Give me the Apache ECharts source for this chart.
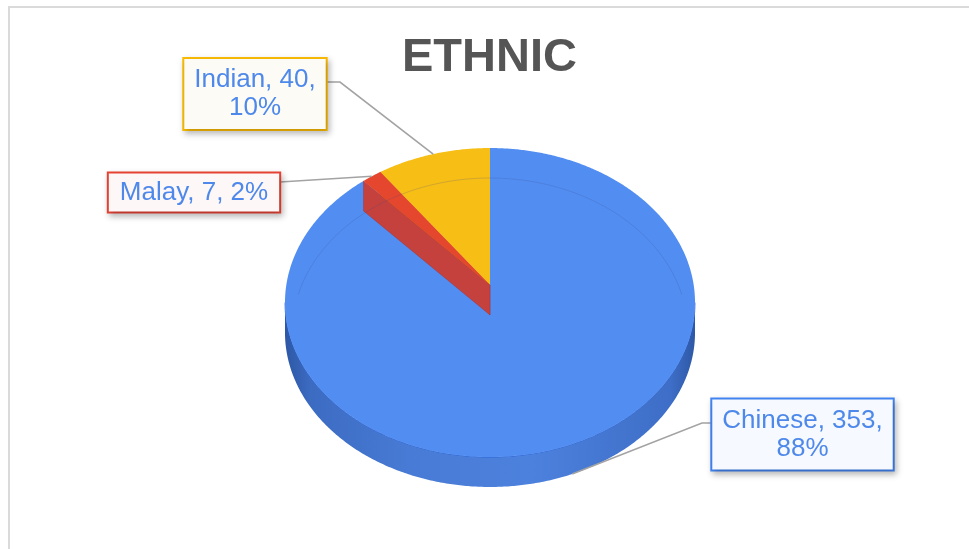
<!DOCTYPE html>
<html><head><meta charset="utf-8">
<script src="https://cdn.jsdelivr.net/npm/echarts@6/dist/echarts.min.js"></script>
<style>html,body{margin:0;padding:0;background:#fff}#c{width:969px;height:549px}</style>
</head><body><div id="c"></div>
<script>
// ---- data ----
const titleText = 'ETHNIC';
const categories = ['Chinese', 'Malay', 'Indian'];
const counts = [353, 7, 40];

// ---- styles / layout ----
const topColors = ['#528ef1', '#e4472d', '#f7be16'];
const wallColors = ['#3f72cf', '#c4413e', '#d9a310'];
const borderColors = ['#4285f4', '#ea4335', '#fbbc04'];
const boxFills = ['#f6f9ff', '#fdf7f7', '#fcfbf6'];
const labelWrap = [true, false, true];
// label box centre, elbow point and attachment point on the box
const labelLayout = [
  { c: [802.5, 434.5], elbow: [702, 423], edge: [712, 423] },
  { c: [194, 192.5], elbow: [280, 182], edge: [280, 182] },
  { c: [255, 94], elbow: [340, 82], edge: [326, 82] }
];
const G = { cx: 490, cy: 285, A: 203.7, B: 152.5, k: 0.1133, D: 30 };
const labelFont = '26px "Liberation Sans", Arial, sans-serif';
const textColor = '#4d88ea';

const total = counts.reduce((a, b) => a + b, 0);
const starts = [];
{ let acc = 0; counts.forEach(v => { starts.push(acc); acc += v; }); }

function proj(theta, r, dz) {
  const u = r * Math.sin(theta), v = r * Math.cos(theta);
  const w = 1 + G.k * v;
  return [G.cx + G.A * u / w, G.cy - G.B * v / w + (dz || 0)];
}
function arc(a0, a1, dz, sx) {
  const pts = [];
  const n = Math.max(2, Math.ceil(Math.abs(a1 - a0) / (Math.PI / 360)));
  for (let i = 0; i <= n; i++) {
    const p = proj(a0 + (a1 - a0) * i / n, 1, dz);
    if (sx) p[0] = G.cx + (p[0] - G.cx) * sx;
    pts.push(p);
  }
  return pts;
}
// draw order: first slice, then remaining far to near
const rest = counts.map((v, i) => i).slice(1).sort((a, b) => {
  const ma = 2 * Math.PI * (starts[a] + counts[a] / 2) / total;
  const mb = 2 * Math.PI * (starts[b] + counts[b] / 2) / total;
  return Math.cos(mb) - Math.cos(ma);
});
const drawOrder = [0].concat(rest);

const sideGrad = new echarts.graphic.LinearGradient(286, 0, 695, 0, [
  { offset: 0, color: '#2e58a6' },
  { offset: 0.06, color: '#3c6bc2' },
  { offset: 0.3, color: '#487bd5' },
  { offset: 0.6, color: '#4c81dd' },
  { offset: 0.94, color: '#3e6ec7' },
  { offset: 1, color: '#2e58a6' }
], true);

function renderItem(params, api) {
  const idx = api.value(2);
  const val = api.value(0);
  const st = api.value(1);
  const a0 = 2 * Math.PI * st / total;
  const a1 = 2 * Math.PI * (st + val) / total;
  const children = [];
  const t1 = Math.acos(-G.k), t2 = 2 * Math.PI - t1;
  // outer side
  const s = Math.max(a0, t1), e = Math.min(a1, t2);
  if (s < e) {
    children.push({ type: 'polygon', shape: { points: arc(s, e, 0).concat(arc(e, s, G.D)) },
      style: { fill: sideGrad } });
    children.push({ type: 'polyline', shape: { points: arc(s, e, 0) },
      style: { stroke: 'rgba(30,90,215,0.7)', lineWidth: 1, fill: null } });
  }
  // start wall facing viewer
  if (Math.sin(a0) < -1e-6) {
    const c0 = proj(0, 0, 0), r0 = proj(a0, 1, 0);
    children.push({ type: 'polygon',
      shape: { points: [c0, r0, [r0[0], r0[1] + G.D], [c0[0], c0[1] + G.D]] },
      style: { fill: wallColors[idx], stroke: 'rgba(160,40,40,0.35)', lineWidth: 1 } });
  }
  // top face
  children.push({ type: 'polygon', shape: { points: [proj(0, 0, 0)].concat(arc(a0, a1, 0)) },
    style: { fill: topColors[idx] } });
  // faint back rim line, on the last drawn item
  if (params.dataIndex === drawOrder.length - 1) {
    children.push({ type: 'polyline', shape: { points: arc(t2 - 2 * Math.PI + 0.25, t1 - 0.25, G.D, 0.965) },
      style: { stroke: 'rgba(60,70,140,0.2)', lineWidth: 1, fill: null } });
  }
  // label line
  const mid = (a0 + a1) / 2;
  const anchorDz = Math.cos(mid) < -G.k ? G.D : 0;
  const anc = proj(mid, 1, anchorDz);
  const L = labelLayout[idx];
  children.push({ type: 'polyline', shape: { points: [anc, L.elbow, L.edge] },
    style: { stroke: '#a3a3a3', lineWidth: 1.6, fill: null } });
  // label box
  const pct = Math.round(val / total * 100) + '%';
  const txt = categories[idx] + ', ' + val + ',' + (labelWrap[idx] ? '\n' : ' ') + pct;
  children.push({ type: 'text', x: L.c[0], y: L.c[1],
    style: { text: txt, font: labelFont, fill: textColor, align: 'center', verticalAlign: 'middle',
      lineHeight: 28, padding: labelWrap[idx] ? [7, 10, 7, 10] : [5, 11, 5, 11],
      backgroundColor: boxFills[idx], borderColor: borderColors[idx], borderWidth: 2,
      shadowColor: 'rgba(0,0,0,0.22)', shadowBlur: 6, shadowOffsetX: 2, shadowOffsetY: 3 } });
  return { type: 'group', children };
}

const chart = echarts.init(document.getElementById('c'), null, { renderer: 'canvas' });
chart.setOption({
  animation: false,
  backgroundColor: '#ffffff',
  title: { text: titleText, left: 397, top: 30,
    textStyle: { fontSize: 47, fontWeight: 'bold', color: '#555555', fontFamily: '"Liberation Sans", Arial, sans-serif' } },
  graphic: [{ type: 'rect', shape: { x: 9, y: 7, width: 1000, height: 600 },
    style: { fill: null, stroke: '#dadada', lineWidth: 2 }, silent: true }],
  series: [{
    type: 'custom', coordinateSystem: 'none', renderItem,
    data: drawOrder.map(i => ({ name: categories[i], value: [counts[i], starts[i], i] }))
  }]
});
</script></body></html>
